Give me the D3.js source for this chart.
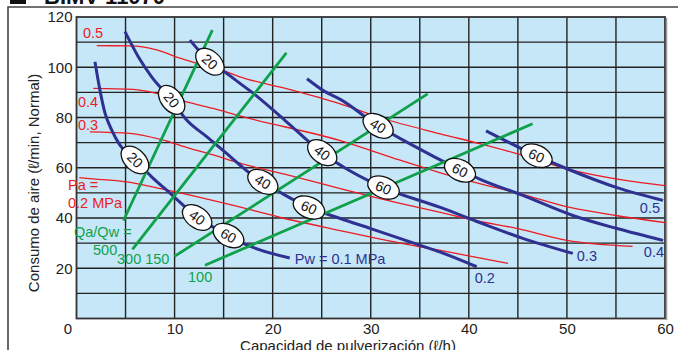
<!DOCTYPE html>
<html><head><meta charset="utf-8">
<script src="https://cdn.jsdelivr.net/npm/d3@7"></script>
<style>body{margin:0;background:#fff;overflow:hidden}svg{display:block}</style>
</head><body>
<svg id="c" width="678" height="350"></svg>
<script>
// ---- data ----
const title = "BIMV 11070";
const xTicks = [0, 10, 20, 30, 40, 50, 60];
const yTicks = [20, 40, 60, 80, 100, 120];
const xLabel = "Capacidad de pulverización (ℓ/h)";
const yLabel = "Consumo de aire (ℓ/min, Normal)";

// water pressure curves Pw (MPa)
const pwNames = ["Pw = 0.1 MPa", "0.2", "0.3", "0.4", "0.5"];
const pw01 = [[1.88,102.2],[2.39,90.9],[2.9,81.8],[3.59,75.0],[4.43,69.0],[5.96,63.1],[7.66,56.4],[9.53,49.9],[12.28,40.4],[15.44,33.2],[16.96,30.0],[21.74,24.1]];
const pw02 = [[4.94,114.2],[6.3,104.2],[7.66,96.2],[9.7,87.0],[11.23,79.0],[13.27,72.4],[15.3,65.7],[16.66,61.1],[17.7,57.7],[19.0,54.4],[21.3,49],[23.7,44.2],[26.9,39.8],[30,35.8],[35,29.2],[37.1,26.4],[40.8,20.6]];
const pw03 = [[11.56,110.8],[13.6,102.2],[15.3,97.6],[16.66,93.6],[17.7,90.6],[21.3,78.7],[25.05,66],[28,58.5],[31.3,52.1],[37.1,44.2],[41.1,38.2],[45.5,31.9],[50.6,25.9]];
const pw04 = [[23.5,95.4],[25.2,90.6],[26.9,87.2],[30.75,76.7],[34,69.5],[39.1,59.2],[41.1,55.5],[45.5,49.0],[50.6,41.0],[55.1,35.8],[59.8,31.1]];
const pw05 = [[41.75,74.7],[46.9,64.8],[50.0,59.6],[55.1,52.1],[59.8,47.0]];

// Qa/Qw markers on the Pw curves
const marks01 = [[5.96,63.1,"20"],[12.3,40.2,"40"],[15.5,33.0,"60"]];
const marks02 = [[9.7,87.0,"20"],[19.0,54.4,"40"],[23.7,44.2,"60"]];
const marks03 = [[13.6,102.2,"20"],[25.05,66.0,"40"],[31.3,52.1,"60"]];
const marks04 = [[30.75,76.7,"40"],[39.1,59.0,"60"]];
const marks05 = [[46.9,64.8,"60"]];

// air pressure curves Pa (MPa)
const paNames = ["0.2 MPa", "0.3", "0.4", "0.5"];
const pa02 = [[0.3,56.1],[1.04,55.8],[5.11,54.4],[8.81,51.5],[16.0,45.0],[20.8,40.2],[26.9,35.0],[32,30.8],[37.1,27.1],[44.0,21.9]];
const pa03 = [[1.38,74.3],[5.45,73.7],[8.84,71.0],[11.56,67.7],[13.94,65.1],[16.66,61.8],[21.8,56.9],[26.9,51.7],[33.0,45.8],[37.1,42.2],[40.4,39.2],[45,35.8],[50.0,31.1],[56.7,28.7]];
const pa04 = [[1.71,91.6],[5.79,91.2],[8.17,89.6],[10.55,86.9],[13.94,83.6],[16.66,80.6],[26.9,70.8],[33.0,63],[37.1,58.0],[41.1,53.7],[45.2,49.7],[50.3,44.2],[55,41],[60,38.2]];
const pa05 = [[2.06,108.6],[5.45,108.5],[8.17,106.9],[10.55,103.6],[12.25,101.6],[15.3,98.2],[16.66,96.2],[21.1,91.8],[26.9,85.4],[31.0,79.9],[37.1,73.5],[41.1,69.6],[45,65.5],[50.0,59.6],[56.1,54.9],[60,52.9]];

// Qa/Qw ratio lines
const qaNames = ["500", "300", "150", "100"];
const qa500 = [[4.79,39.0],[13.85,114.8]];
const qa300 = [[5.70,27.5],[21.4,105.7]];
const qa150 = [[9.98,24.7],[35.8,89.4]];
const qa100 = [[13.1,21.2],[46.5,77.5]];

// ---- drawing ----
const svg = d3.select("#c");
const FONT = "'Liberation Sans', Arial, Helvetica, sans-serif";
const x = d3.scaleLinear().domain([0, 60]).range([76.5, 665]);
const y = d3.scaleLinear().domain([0, 120]).range([318.5, 17]);

const BLUE = "#2e3192", RED = "#ec1c24", GREEN = "#0fa14a", BG = "#c6e7f7";

// outer frame
svg.append("path").attr("d", "M8,352 V7 H680").attr("fill", "none")
  .attr("stroke", "#444").attr("stroke-width", 1.6);

// title (clipped at top)
svg.append("rect").attr("x", 10).attr("y", -12).attr("width", 16).attr("height", 16).attr("fill", "#111");
svg.append("text").attr("x", 44).attr("y", 4).attr("font-family", FONT)
  .attr("font-weight", "bold").attr("font-size", 22).attr("fill", "#111").text(title);

// plot background
svg.append("rect").attr("x", x(0)).attr("y", y(120))
  .attr("width", x(60) - x(0)).attr("height", y(0) - y(120)).attr("fill", BG);

// grid
const g = svg.append("g");
g.selectAll(".vg").data(d3.range(5, 60, 5)).join("line")
  .attr("x1", d => x(d)).attr("x2", d => x(d)).attr("y1", y(0)).attr("y2", y(120))
  .attr("stroke", "#222").attr("stroke-width", 1.4);
g.selectAll(".hg").data(d3.range(10, 120, 10)).join("line")
  .attr("x1", x(0)).attr("x2", x(60)).attr("y1", d => y(d)).attr("y2", d => y(d))
  .attr("stroke", "#222").attr("stroke-width", 1.4);
svg.append("rect").attr("x", x(0)).attr("y", y(120))
  .attr("width", x(60) - x(0)).attr("height", y(0) - y(120))
  .attr("fill", "none").attr("stroke", "#333").attr("stroke-width", 1.8);
svg.append("path").attr("d", `M${x(60)+1.5},${y(120)+1} V${y(0)+1.5}`)
  .attr("stroke", "#999").attr("stroke-width", 1.5);

// axes
const ax = svg.append("g").attr("transform", `translate(0,${y(0)})`)
  .call(d3.axisBottom(x).tickValues(xTicks).tickSize(0).tickPadding(5).tickFormat(d3.format("d")));
ax.select(".domain").remove();
ax.selectAll("text").attr("font-family", FONT).attr("font-size", 15).attr("fill", "#222")
  .attr("dx", d => d === 0 ? -9 : 0);
const ay = svg.append("g").attr("transform", `translate(${x(0)},0)`)
  .call(d3.axisLeft(y).tickValues(yTicks).tickSize(0).tickPadding(4));
ay.select(".domain").remove();
ay.selectAll("text").attr("font-family", FONT).attr("font-size", 15).attr("fill", "#222");

svg.append("text").attr("x", 348).attr("y", 351).attr("text-anchor", "middle")
  .attr("font-family", FONT).attr("font-size", 15).attr("fill", "#222").text(xLabel);
svg.append("text").attr("transform", "rotate(-90)").attr("x", -183).attr("y", 39)
  .attr("text-anchor", "middle").attr("font-family", FONT).attr("font-size", 15)
  .attr("fill", "#222").text(yLabel);

const line = d3.line().x(d => x(d[0])).y(d => y(d[1])).curve(d3.curveMonotoneX);
const sline = d3.line().x(d => x(d[0])).y(d => y(d[1]));

// red Pa curves
[pa02, pa03, pa04, pa05].forEach(c => svg.append("path").attr("d", line(c))
  .attr("fill", "none").attr("stroke", RED).attr("stroke-width", 1.3));

// blue Pw curves
const pws = [pw01, pw02, pw03, pw04, pw05];
pws.forEach(c => svg.append("path").attr("d", line(c))
  .attr("fill", "none").attr("stroke", BLUE).attr("stroke-width", 3));

// green ratio lines
[qa500, qa300, qa150, qa100].forEach(c => svg.append("path").attr("d", sline(c))
  .attr("fill", "none").attr("stroke", GREEN).attr("stroke-width", 2.8));

// marker ellipses
function interp(c, vx) {
  if (vx <= c[0][0]) return c[0][1];
  for (let i = 1; i < c.length; i++) {
    if (vx <= c[i][0]) {
      const t = (vx - c[i-1][0]) / (c[i][0] - c[i-1][0]);
      return c[i-1][1] + t * (c[i][1] - c[i-1][1]);
    }
  }
  return c[c.length-1][1];
}
const allMarks = [marks01, marks02, marks03, marks04, marks05];
allMarks.forEach((ms, i) => {
  const c = pws[i];
  ms.forEach(m => {
    const h = 0.7;
    const x1 = x(m[0] - h), y1 = y(interp(c, m[0] - h));
    const x2 = x(m[0] + h), y2 = y(interp(c, m[0] + h));
    const ang = Math.atan2(y2 - y1, x2 - x1) * 180 / Math.PI;
    const gg = svg.append("g").attr("transform", `translate(${x(m[0])},${y(m[1])}) rotate(${ang})`);
    gg.append("ellipse").attr("rx", 16.5).attr("ry", 10.5).attr("fill", "#fff")
      .attr("stroke", "#111").attr("stroke-width", 1.3);
    gg.append("text").attr("text-anchor", "middle").attr("dy", "0.36em")
      .attr("font-family", FONT).attr("font-size", 14).attr("fill", "#111").text(m[2]);
  });
});

// blue end labels
const pwOff = [[5, 6, "start"], [-2, 16, "start"], [4, 8, "start"], [1, 17, "end"], [-3, 13, "end"]];
pws.forEach((c, i) => {
  const e = c[c.length - 1];
  svg.append("text").attr("x", x(e[0]) + pwOff[i][0]).attr("y", y(e[1]) + pwOff[i][1])
    .attr("text-anchor", pwOff[i][2]).attr("font-family", FONT).attr("font-size", 14.5)
    .attr("fill", BLUE).text(pwNames[i]);
});

// red labels
const redText = (t, px, py) => svg.append("text").attr("x", px).attr("y", py)
  .attr("font-family", FONT).attr("font-size", 14.5).attr("fill", RED).text(t);
redText(paNames[3], x(0) + 6.5, 38);
redText(paNames[2], x(0) + 1.5, 107);
redText(paNames[1], x(0) + 1.5, 130);
redText("Pa =", x(0) - 8.5, 190);
redText(paNames[0], x(0) - 8.5, 208);

// green labels
const greenText = (t, px, py) => svg.append("text").attr("x", px).attr("y", py)
  .attr("font-family", FONT).attr("font-size", 14.5).attr("fill", GREEN).text(t);
greenText("Qa/Qw =", x(0) - 2.5, 237);
greenText(qaNames[0], x(0) + 16.5, 255);
greenText(qaNames[1] + " " + qaNames[2], x(0) + 40.5, 264);
greenText(qaNames[3], x(0) + 111.5, 282);
</script>
</body></html>
